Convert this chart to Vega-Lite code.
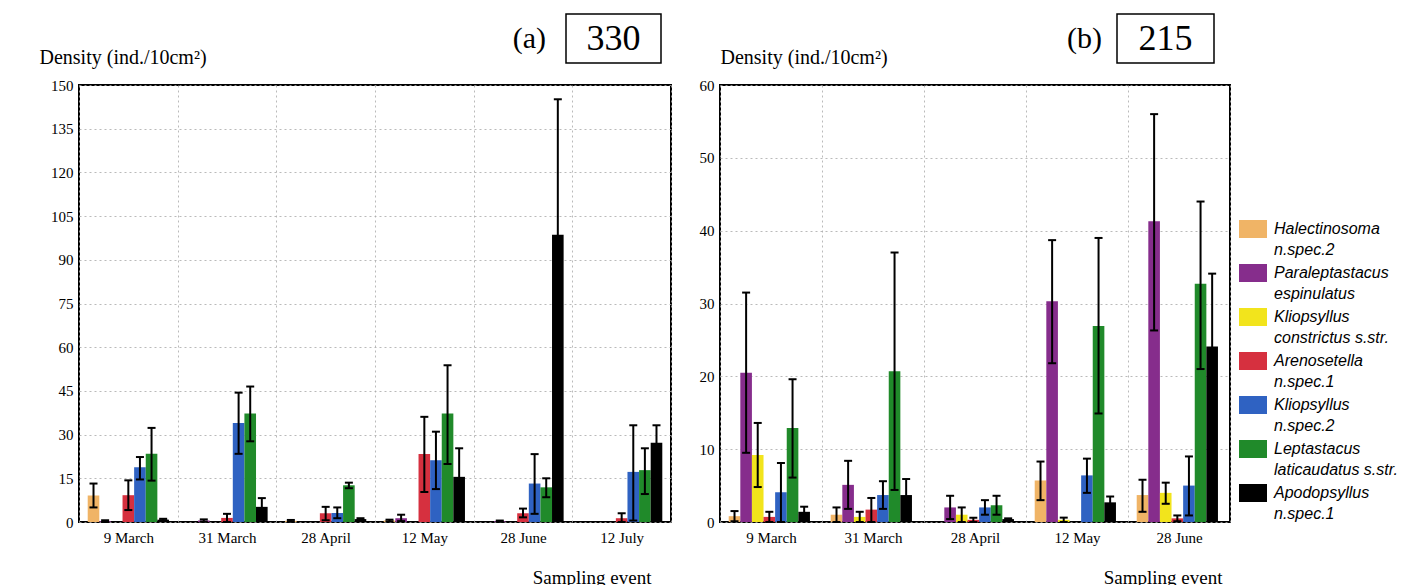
{
  "$schema": "https://vega.github.io/schema/vega-lite/v6.json",
  "background": "white",
  "padding": {"left": 38, "top": 13, "right": 5, "bottom": 0},
  "config": {
    "view": {"stroke": "black", "strokeWidth": 2},
    "font": "Liberation Serif",
    "axis": {"labelColor": "black", "titleColor": "black"},
    "style": {"guide-label": {"lineHeight": 21}}
  },
  "datasets": {
    "a": [
      {"date": "9 March", "species": "Halectinosoma n.spec.2", "value": 9.1, "lo": 5.0, "hi": 13.2},
      {"date": "9 March", "species": "Paraleptastacus espinulatus", "value": 0.3, "lo": 0, "hi": 0.6},
      {"date": "9 March", "species": "Arenosetella n.spec.1", "value": 9.2, "lo": 4.1, "hi": 14.3},
      {"date": "9 March", "species": "Kliopsyllus n.spec.2", "value": 18.8, "lo": 14.6, "hi": 22.3},
      {"date": "9 March", "species": "Leptastacus laticaudatus s.str.", "value": 23.4, "lo": 14.2, "hi": 32.3},
      {"date": "9 March", "species": "Apodopsyllus n.spec.1", "value": 0.8, "lo": 0.6, "hi": 1.1},
      {"date": "31 March", "species": "Paraleptastacus espinulatus", "value": 0.5, "lo": 0.1, "hi": 0.9},
      {"date": "31 March", "species": "Arenosetella n.spec.1", "value": 1.4, "lo": 0, "hi": 2.8},
      {"date": "31 March", "species": "Kliopsyllus n.spec.2", "value": 34.0, "lo": 23.4, "hi": 44.4},
      {"date": "31 March", "species": "Leptastacus laticaudatus s.str.", "value": 37.2, "lo": 27.7, "hi": 46.5},
      {"date": "31 March", "species": "Apodopsyllus n.spec.1", "value": 5.2, "lo": 1.9, "hi": 8.2},
      {"date": "28 April", "species": "Halectinosoma n.spec.2", "value": 0.4, "lo": 0.1, "hi": 0.7},
      {"date": "28 April", "species": "Arenosetella n.spec.1", "value": 3.0, "lo": 0.6, "hi": 5.2},
      {"date": "28 April", "species": "Kliopsyllus n.spec.2", "value": 3.1, "lo": 1.3, "hi": 5.0},
      {"date": "28 April", "species": "Leptastacus laticaudatus s.str.", "value": 12.6, "lo": 11.6, "hi": 13.5},
      {"date": "28 April", "species": "Apodopsyllus n.spec.1", "value": 1.0, "lo": 0.7, "hi": 1.3},
      {"date": "12 May", "species": "Halectinosoma n.spec.2", "value": 0.5, "lo": 0.2, "hi": 0.8},
      {"date": "12 May", "species": "Paraleptastacus espinulatus", "value": 1.3, "lo": 0.3, "hi": 2.5},
      {"date": "12 May", "species": "Arenosetella n.spec.1", "value": 23.3, "lo": 10.3, "hi": 36.1},
      {"date": "12 May", "species": "Kliopsyllus n.spec.2", "value": 21.2, "lo": 11.3, "hi": 31.0},
      {"date": "12 May", "species": "Leptastacus laticaudatus s.str.", "value": 37.2, "lo": 19.9, "hi": 53.8},
      {"date": "12 May", "species": "Apodopsyllus n.spec.1", "value": 15.5, "lo": 5.8, "hi": 25.3},
      {"date": "28 June", "species": "Paraleptastacus espinulatus", "value": 0.3, "lo": 0.1, "hi": 0.5},
      {"date": "28 June", "species": "Arenosetella n.spec.1", "value": 3.0, "lo": 1.6, "hi": 4.6},
      {"date": "28 June", "species": "Kliopsyllus n.spec.2", "value": 13.2, "lo": 2.8, "hi": 23.3},
      {"date": "28 June", "species": "Leptastacus laticaudatus s.str.", "value": 11.9, "lo": 8.5, "hi": 15.0},
      {"date": "28 June", "species": "Apodopsyllus n.spec.1", "value": 98.6, "lo": 52.0, "hi": 145.1},
      {"date": "12 July", "species": "Arenosetella n.spec.1", "value": 1.3, "lo": 0, "hi": 3.0},
      {"date": "12 July", "species": "Kliopsyllus n.spec.2", "value": 17.2, "lo": 0.5, "hi": 33.2},
      {"date": "12 July", "species": "Leptastacus laticaudatus s.str.", "value": 17.8, "lo": 9.6, "hi": 25.3},
      {"date": "12 July", "species": "Apodopsyllus n.spec.1", "value": 27.2, "lo": 21.4, "hi": 33.2}
    ],
    "b": [
      {"date": "9 March", "species": "Halectinosoma n.spec.2", "value": 0.8, "lo": 0.1, "hi": 1.5},
      {"date": "9 March", "species": "Paraleptastacus espinulatus", "value": 20.5, "lo": 9.5, "hi": 31.5},
      {"date": "9 March", "species": "Kliopsyllus constrictus s.str.", "value": 9.2, "lo": 4.8, "hi": 13.6},
      {"date": "9 March", "species": "Arenosetella n.spec.1", "value": 0.7, "lo": 0, "hi": 1.4},
      {"date": "9 March", "species": "Kliopsyllus n.spec.2", "value": 4.1, "lo": 0, "hi": 8.1},
      {"date": "9 March", "species": "Leptastacus laticaudatus s.str.", "value": 12.9, "lo": 6.1, "hi": 19.6},
      {"date": "9 March", "species": "Apodopsyllus n.spec.1", "value": 1.4, "lo": 0.8, "hi": 2.1},
      {"date": "31 March", "species": "Halectinosoma n.spec.2", "value": 1.0, "lo": 0, "hi": 2.0},
      {"date": "31 March", "species": "Paraleptastacus espinulatus", "value": 5.1, "lo": 1.8, "hi": 8.4},
      {"date": "31 March", "species": "Kliopsyllus constrictus s.str.", "value": 0.7, "lo": 0, "hi": 1.4},
      {"date": "31 March", "species": "Arenosetella n.spec.1", "value": 1.7, "lo": 0, "hi": 3.3},
      {"date": "31 March", "species": "Kliopsyllus n.spec.2", "value": 3.7, "lo": 1.8, "hi": 5.6},
      {"date": "31 March", "species": "Leptastacus laticaudatus s.str.", "value": 20.7, "lo": 4.4, "hi": 37.0},
      {"date": "31 March", "species": "Apodopsyllus n.spec.1", "value": 3.7, "lo": 1.6, "hi": 5.9},
      {"date": "28 April", "species": "Paraleptastacus espinulatus", "value": 2.0, "lo": 0.4, "hi": 3.6},
      {"date": "28 April", "species": "Kliopsyllus constrictus s.str.", "value": 1.0, "lo": 0, "hi": 2.0},
      {"date": "28 April", "species": "Arenosetella n.spec.1", "value": 0.3, "lo": 0, "hi": 0.6},
      {"date": "28 April", "species": "Kliopsyllus n.spec.2", "value": 2.0, "lo": 1.0, "hi": 3.0},
      {"date": "28 April", "species": "Leptastacus laticaudatus s.str.", "value": 2.3, "lo": 1.0, "hi": 3.6},
      {"date": "28 April", "species": "Apodopsyllus n.spec.1", "value": 0.4, "lo": 0.3, "hi": 0.5},
      {"date": "12 May", "species": "Halectinosoma n.spec.2", "value": 5.7, "lo": 3.0, "hi": 8.3},
      {"date": "12 May", "species": "Paraleptastacus espinulatus", "value": 30.3, "lo": 21.8, "hi": 38.7},
      {"date": "12 May", "species": "Kliopsyllus constrictus s.str.", "value": 0.3, "lo": 0, "hi": 0.6},
      {"date": "12 May", "species": "Kliopsyllus n.spec.2", "value": 6.4, "lo": 4.0, "hi": 8.7},
      {"date": "12 May", "species": "Leptastacus laticaudatus s.str.", "value": 26.9, "lo": 14.9, "hi": 39.0},
      {"date": "12 May", "species": "Apodopsyllus n.spec.1", "value": 2.7, "lo": 1.8, "hi": 3.5},
      {"date": "28 June", "species": "Halectinosoma n.spec.2", "value": 3.7, "lo": 1.4, "hi": 5.8},
      {"date": "28 June", "species": "Paraleptastacus espinulatus", "value": 41.3, "lo": 26.3, "hi": 56.0},
      {"date": "28 June", "species": "Kliopsyllus constrictus s.str.", "value": 4.0, "lo": 2.5, "hi": 5.4},
      {"date": "28 June", "species": "Arenosetella n.spec.1", "value": 0.5, "lo": 0.1, "hi": 0.9},
      {"date": "28 June", "species": "Kliopsyllus n.spec.2", "value": 5.0, "lo": 0.9, "hi": 9.0},
      {"date": "28 June", "species": "Leptastacus laticaudatus s.str.", "value": 32.7, "lo": 21.0, "hi": 44.0},
      {"date": "28 June", "species": "Apodopsyllus n.spec.1", "value": 24.1, "lo": 14.1, "hi": 34.1}
    ],
    "labelA": [{"label": "330"}],
    "labelB": [{"label": "215"}],
    "none": []
  },
  "spacing": 26,
  "hconcat": [
    {
      "bounds": "flush",
      "spacing": 71,
      "vconcat": [
        {
          "bounds": "flush",
          "spacing": 0,
          "hconcat": [
            {"width": 487, "height": 49, "view": {"stroke": null}, "data": {"name": "none"}, "mark": "text"},
            {
              "width": 95, "height": 49,
              "view": {"stroke": "black", "strokeWidth": 1.5},
              "data": {"name": "labelA"},
              "title": {"text": "(a)", "orient": "left", "angle": 0, "align": "left", "baseline": "middle", "anchor": "middle", "offset": 20, "fontSize": 30, "fontWeight": "normal", "font": "Liberation Serif", "color": "black"},
              "mark": {"type": "text", "fontSize": 36, "font": "Liberation Serif", "color": "black"},
              "encoding": {"text": {"field": "label"}}
            }
          ]
        },
        {
          "width": 592, "height": 437,
          "data": {"name": "a"},
          "encoding": {
            "x": {
              "field": "date", "type": "nominal",
              "sort": ["9 March", "31 March", "28 April", "12 May", "28 June", "12 July"],
              "scale": {"paddingInner": 0, "paddingOuter": 0},
              "axis": {"title": "Sampling event", "titleFont": "Liberation Serif", "titleFontSize": 19, "titleFontWeight": "normal", "titleAlign": "right", "titleBaseline": "alphabetic", "titleX": 572, "titleY": 61, "labelAngle": 0, "labelFont": "Liberation Serif", "labelFontSize": 15, "labelPadding": 8, "ticks": false, "domain": false, "grid": true, "tickBand": "extent", "gridDash": [2, 3], "gridColor": "#a8a8a8", "gridWidth": 0.8}
            },
            "xOffset": {
              "field": "species", "type": "nominal",
              "scale": {"domain": ["Halectinosoma n.spec.2", "Paraleptastacus espinulatus", "Kliopsyllus constrictus s.str.", "Arenosetella n.spec.1", "Kliopsyllus n.spec.2", "Leptastacus laticaudatus s.str.", "Apodopsyllus n.spec.1"], "paddingInner": 0, "paddingOuter": 0.75}
            }
          },
          "layer": [
            {
              "mark": {"type": "bar"},
              "encoding": {
                "y": {"field": "value", "type": "quantitative", "title": "Density (ind./10cm²)", "scale": {"domain": [0, 150], "nice": false},
                  "axis": {"titleAngle": 0, "titleAlign": "left", "titleBaseline": "alphabetic", "titleX": -40, "titleY": -22, "titleFont": "Liberation Serif", "titleFontSize": 20, "titleFontWeight": "normal", "values": [0, 15, 30, 45, 60, 75, 90, 105, 120, 135, 150], "labelFont": "Liberation Serif", "labelFontSize": 15, "labelPadding": 6, "ticks": false, "domain": false, "grid": true, "gridDash": [2, 3], "gridColor": "#a8a8a8", "gridWidth": 0.8}},
                "color": {"field": "species", "type": "nominal",
                  "scale": {"domain": ["Halectinosoma n.spec.2", "Paraleptastacus espinulatus", "Kliopsyllus constrictus s.str.", "Arenosetella n.spec.1", "Kliopsyllus n.spec.2", "Leptastacus laticaudatus s.str.", "Apodopsyllus n.spec.1"], "range": ["#F0B466", "#862D8C", "#F2E41C", "#D6303F", "#2F62C2", "#208A2A", "#000000"]},
                  "legend": {"title": null, "orient": "none", "legendX": 1164, "legendY": 205, "symbolType": "M-1.4,-0.9H1.4V0.9H-1.4Z", "symbolSize": 400, "symbolStrokeWidth": 0, "rowPadding": 5, "labelFont": "Liberation Sans", "labelFontStyle": "italic", "labelFontSize": 16, "labelColor": "black", "labelOffset": 11, "labelLimit": 250, "labelExpr": "[slice(datum.label, 0, indexof(datum.label, ' ')), slice(datum.label, indexof(datum.label, ' ') + 1)]"}}
              }
            },
            {
              "mark": {"type": "rule", "color": "black", "strokeWidth": 2},
              "encoding": {
                "y": {"field": "lo", "type": "quantitative", "title": "Density (ind./10cm²)", "scale": {"domain": [0, 150], "nice": false}},
                "y2": {"field": "hi"}
              }
            },
            {
              "mark": {"type": "tick", "color": "black", "thickness": 2, "size": 8, "opacity": 1},
              "encoding": {"y": {"field": "lo", "type": "quantitative", "title": "Density (ind./10cm²)", "scale": {"domain": [0, 150], "nice": false}}}
            },
            {
              "mark": {"type": "tick", "color": "black", "thickness": 2, "size": 8, "opacity": 1},
              "encoding": {"y": {"field": "hi", "type": "quantitative", "title": "Density (ind./10cm²)", "scale": {"domain": [0, 150], "nice": false}}}
            }
          ]
        }
      ]
    },
    {
      "bounds": "flush",
      "spacing": 71,
      "vconcat": [
        {
          "bounds": "flush",
          "spacing": 0,
          "hconcat": [
            {"width": 397, "height": 49, "view": {"stroke": null}, "data": {"name": "none"}, "mark": "text"},
            {
              "width": 97, "height": 49,
              "view": {"stroke": "black", "strokeWidth": 1.5},
              "data": {"name": "labelB"},
              "title": {"text": "(b)", "orient": "left", "angle": 0, "align": "left", "baseline": "middle", "anchor": "middle", "offset": 15, "fontSize": 30, "fontWeight": "normal", "font": "Liberation Serif", "color": "black"},
              "mark": {"type": "text", "fontSize": 36, "font": "Liberation Serif", "color": "black"},
              "encoding": {"text": {"field": "label"}}
            }
          ]
        },
        {
          "width": 510, "height": 437,
          "data": {"name": "b"},
          "encoding": {
            "x": {
              "field": "date", "type": "nominal",
              "sort": ["9 March", "31 March", "28 April", "12 May", "28 June"],
              "scale": {"paddingInner": 0, "paddingOuter": 0},
              "axis": {"title": "Sampling event", "titleFont": "Liberation Serif", "titleFontSize": 19, "titleFontWeight": "normal", "titleAlign": "right", "titleBaseline": "alphabetic", "titleX": 502, "titleY": 61, "labelAngle": 0, "labelFont": "Liberation Serif", "labelFontSize": 15, "labelPadding": 8, "ticks": false, "domain": false, "grid": true, "tickBand": "extent", "gridDash": [2, 3], "gridColor": "#a8a8a8", "gridWidth": 0.8}
            },
            "xOffset": {
              "field": "species", "type": "nominal",
              "scale": {"domain": ["Halectinosoma n.spec.2", "Paraleptastacus espinulatus", "Kliopsyllus constrictus s.str.", "Arenosetella n.spec.1", "Kliopsyllus n.spec.2", "Leptastacus laticaudatus s.str.", "Apodopsyllus n.spec.1"], "paddingInner": 0, "paddingOuter": 0.8}
            }
          },
          "layer": [
            {
              "mark": {"type": "bar"},
              "encoding": {
                "y": {"field": "value", "type": "quantitative", "title": "Density (ind./10cm²)", "scale": {"domain": [0, 60], "nice": false},
                  "axis": {"titleAngle": 0, "titleAlign": "left", "titleBaseline": "alphabetic", "titleX": 0, "titleY": -22, "titleFont": "Liberation Serif", "titleFontSize": 20, "titleFontWeight": "normal", "values": [0, 10, 20, 30, 40, 50, 60], "labelFont": "Liberation Serif", "labelFontSize": 15, "labelPadding": 6, "ticks": false, "domain": false, "grid": true, "gridDash": [2, 3], "gridColor": "#a8a8a8", "gridWidth": 0.8}},
                "color": {"field": "species", "type": "nominal",
                  "scale": {"domain": ["Halectinosoma n.spec.2", "Paraleptastacus espinulatus", "Kliopsyllus constrictus s.str.", "Arenosetella n.spec.1", "Kliopsyllus n.spec.2", "Leptastacus laticaudatus s.str.", "Apodopsyllus n.spec.1"], "range": ["#F0B466", "#862D8C", "#F2E41C", "#D6303F", "#2F62C2", "#208A2A", "#000000"]},
                  "legend": {"title": null, "orient": "none", "legendX": 1164, "legendY": 205, "symbolType": "M-1.4,-0.9H1.4V0.9H-1.4Z", "symbolSize": 400, "symbolStrokeWidth": 0, "rowPadding": 5, "labelFont": "Liberation Sans", "labelFontStyle": "italic", "labelFontSize": 16, "labelColor": "black", "labelOffset": 11, "labelLimit": 250, "labelExpr": "[slice(datum.label, 0, indexof(datum.label, ' ')), slice(datum.label, indexof(datum.label, ' ') + 1)]"}}
              }
            },
            {
              "mark": {"type": "rule", "color": "black", "strokeWidth": 2},
              "encoding": {
                "y": {"field": "lo", "type": "quantitative", "title": "Density (ind./10cm²)", "scale": {"domain": [0, 60], "nice": false}},
                "y2": {"field": "hi"}
              }
            },
            {
              "mark": {"type": "tick", "color": "black", "thickness": 2, "size": 8, "opacity": 1},
              "encoding": {"y": {"field": "lo", "type": "quantitative", "title": "Density (ind./10cm²)", "scale": {"domain": [0, 60], "nice": false}}}
            },
            {
              "mark": {"type": "tick", "color": "black", "thickness": 2, "size": 8, "opacity": 1},
              "encoding": {"y": {"field": "hi", "type": "quantitative", "title": "Density (ind./10cm²)", "scale": {"domain": [0, 60], "nice": false}}}
            }
          ]
        }
      ]
    }
  ]
}
